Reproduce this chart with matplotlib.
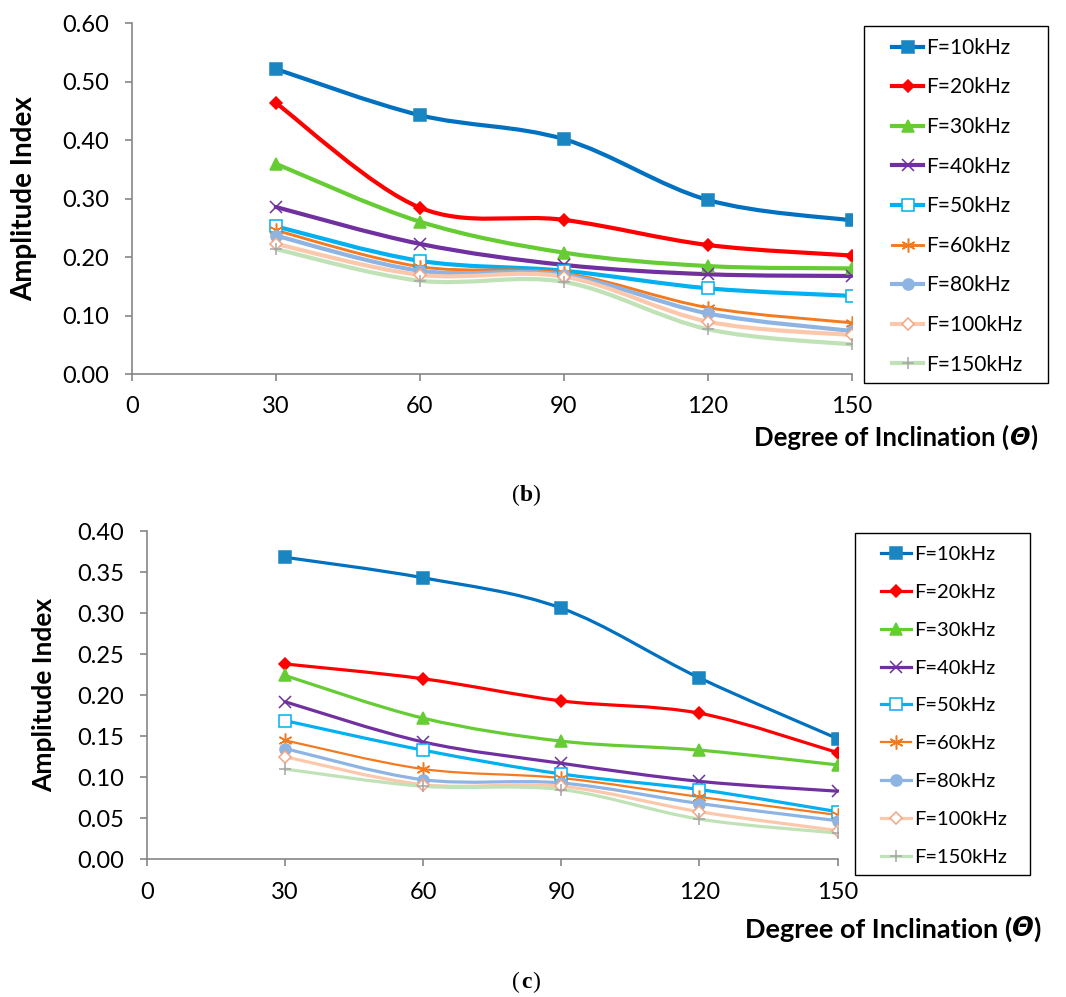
import numpy as np
import matplotlib
matplotlib.use('Agg')
import matplotlib.pyplot as plt
from matplotlib.path import Path
from matplotlib.patches import PathPatch, Rectangle
from matplotlib.lines import Line2D

plt.rcParams['font.family'] = ['Lato', 'DejaVu Sans']

# Datos
grados = [30, 60, 90, 120, 150]
etiquetas = ['F=10kHz', 'F=20kHz', 'F=30kHz', 'F=40kHz', 'F=50kHz',
             'F=60kHz', 'F=80kHz', 'F=100kHz', 'F=150kHz']

# (b)
b_10 = [0.522, 0.443, 0.402, 0.298, 0.263]
b_20 = [0.464, 0.285, 0.264, 0.221, 0.203]
b_30 = [0.360, 0.261, 0.208, 0.185, 0.181]
b_40 = [0.286, 0.223, 0.187, 0.171, 0.168]
b_50 = [0.253, 0.194, 0.177, 0.147, 0.134]
b_60 = [0.246, 0.184, 0.173, 0.114, 0.088]
b_80 = [0.237, 0.177, 0.170, 0.104, 0.074]
b_100 = [0.223, 0.170, 0.167, 0.090, 0.067]
b_150 = [0.214, 0.160, 0.158, 0.077, 0.051]

# (c)
c_10 = [0.368, 0.343, 0.306, 0.221, 0.147]
c_20 = [0.238, 0.220, 0.193, 0.178, 0.130]
c_30 = [0.224, 0.172, 0.144, 0.133, 0.115]
c_40 = [0.192, 0.143, 0.117, 0.095, 0.083]
c_50 = [0.169, 0.133, 0.104, 0.085, 0.058]
c_60 = [0.145, 0.110, 0.099, 0.076, 0.054]
c_80 = [0.135, 0.097, 0.093, 0.068, 0.047]
c_100 = [0.125, 0.091, 0.089, 0.058, 0.035]
c_150 = [0.110, 0.089, 0.085, 0.049, 0.032]

series_b = [b_10, b_20, b_30, b_40, b_50, b_60, b_80, b_100, b_150]
series_c = [c_10, c_20, c_30, c_40, c_50, c_60, c_80, c_100, c_150]

# estilo de cada serie: color linea, marcador, relleno, borde, tamano, ancho relativo
estilos = [
    ('#0070C0', 's', '#1A86C1', '#1A86C1', 8, 1.0),
    ('#FF0000', 'D', '#FF0000', '#FF0000', 6.5, 1.0),
    ('#66CC33', '^', '#66CC33', '#66CC33', 8, 1.0),
    ('#7030A0', 'x', '#7030A0', '#7030A0', 8, 1.0),
    ('#00B0F0', 's', 'white', '#00B0F0', 8, 1.0),
    ('#F47A20', (6, 2, 0), '#F47A20', '#F47A20', 10, 0.7),
    ('#8DB4E2', 'o', '#8DB4E2', '#8DB4E2', 8, 1.0),
    ('#FCC8AC', 'D', 'white', '#F4A582', 6.5, 1.0),
    ('#BFE2B6', '+', '#A6A6A6', '#A6A6A6', 9, 1.0),
]


def curva_suave(x, y):
    # curva tipo Excel (bezier con puntos de control catmull-rom)
    p = np.column_stack([x, y]).astype(float)
    n = len(p)
    verts = [p[0]]
    codes = [Path.MOVETO]
    for i in range(n - 1):
        p0 = p[i - 1] if i > 0 else p[i]
        p1 = p[i]
        p2 = p[i + 1]
        p3 = p[i + 2] if i + 2 < n else p[i + 1]
        verts += [p1 + (p2 - p0) / 6, p2 - (p3 - p1) / 6, p2]
        codes += [Path.CURVE4] * 3
    return Path(verts, codes)


def grafico(ax, series, ymax, paso, ancho, caja, ancla, fs_leg, espacio):
    handles = []
    for datos, est, lab in zip(series, estilos, etiquetas):
        color, mk, cara, borde, ms, fact = est
        lw = ancho * fact
        ax.add_patch(PathPatch(curva_suave(grados, datos), fill=False,
                               edgecolor=color, lw=lw, capstyle='round',
                               joinstyle='round'))
        ax.plot(grados, datos, ls='none', marker=mk, ms=ms, mfc=cara,
                mec=borde, mew=1.1)
        handles.append(Line2D([], [], color=color, lw=lw, marker=mk, ms=ms,
                              mfc=cara, mec=borde, mew=1.1, label=lab))
    ax.set_xlim(0, 150)
    ax.set_ylim(0, ymax)
    ax.set_xticks([0, 30, 60, 90, 120, 150])
    ax.set_yticks(np.arange(0, ymax + paso / 2, paso))
    ax.yaxis.set_major_formatter(plt.FormatStrFormatter('%.2f'))
    for s in ['top', 'right']:
        ax.spines[s].set_visible(False)
    for s in ['left', 'bottom']:
        ax.spines[s].set_color('#868686')
        ax.spines[s].set_linewidth(1.2)
    ax.tick_params(direction='out', length=5, width=1.2, color='#868686',
                   labelsize=17, pad=11)
    # marco de la leyenda
    fig.patches.append(Rectangle((caja[0], caja[1]), caja[2], caja[3],
                                 transform=fig.transFigure, fill=False,
                                 edgecolor='black', lw=1.0))
    fig.legend(handles=handles, loc='upper left', bbox_to_anchor=ancla,
               bbox_transform=fig.transFigure, fontsize=fs_leg, frameon=False,
               handlelength=1.5, labelspacing=espacio, borderaxespad=0,
               borderpad=0, handletextpad=0.15)


def titulo_x(x, y, fs):
    t1 = fig.text(x, y, 'Degree of Inclination (', fontsize=fs,
                  fontweight='bold', ha='left', va='center')
    t2 = fig.add_artist(plt.Annotation('\u0398', xy=(1, 0), xycoords=t1,
                                       va='bottom', ha='left', fontsize=fs - 1,
                                       fontweight='bold', style='italic',
                                       family='DejaVu Sans'))
    fig.add_artist(plt.Annotation(')', xy=(1, 0), xycoords=t2, va='bottom',
                                  ha='left', fontsize=fs, fontweight='bold'))


fig = plt.figure(figsize=(10.66, 9.97), dpi=100)

ax1 = fig.add_axes([0.1235, 0.6246, 0.6757, 0.352])
grafico(ax1, series_b, 0.60, 0.10, 3.0,
        (0.8105, 0.6159, 0.1726, 0.358), (0.8368, 0.962), 15, 0.94)
ax1.set_ylabel('Amplitude Index', fontsize=20, fontweight='bold', labelpad=18)
titulo_x(0.7075, 0.561, 18.5)

ax2 = fig.add_axes([0.1376, 0.1381, 0.6482, 0.3293])
grafico(ax2, series_c, 0.40, 0.05, 2.3,
        (0.8021, 0.1224, 0.1642, 0.343), (0.8262, 0.4524), 14.5, 1.03)
ax2.set_ylabel('Amplitude Index', fontsize=19, fontweight='bold', labelpad=15)
titulo_x(0.6985, 0.068, 19.5)

# subtitulos (b) y (c)
for yy, letra in [(0.5035, 'b'), (0.015, 'c')]:
    fig.text(0.4875, yy, '(', family='Liberation Serif', fontsize=17,
             ha='right', va='center')
    fig.text(0.4935, yy, letra, family='Liberation Serif', fontsize=17,
             fontweight='bold', ha='center', va='center')
    fig.text(0.4995, yy, ')', family='Liberation Serif', fontsize=17,
             ha='left', va='center')

fig.savefig('out.png', dpi=100)
